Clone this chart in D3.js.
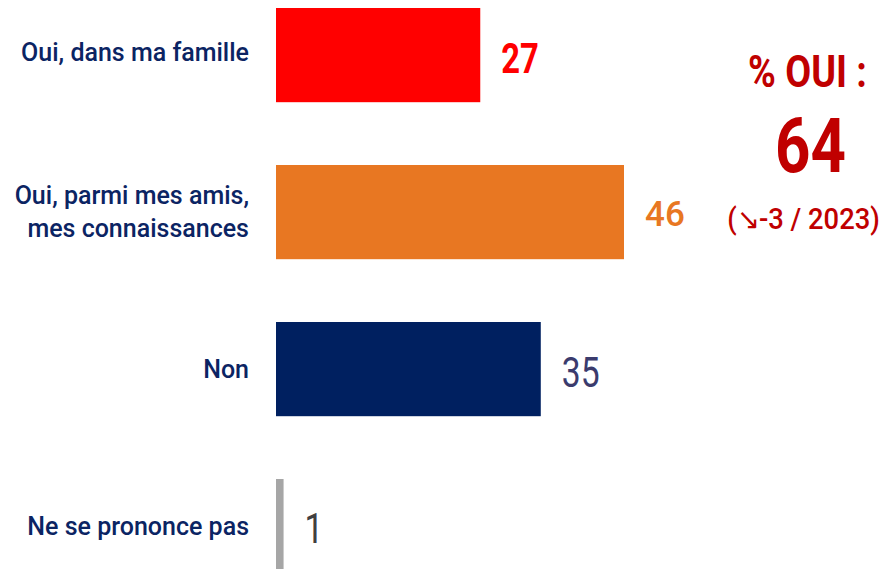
<!DOCTYPE html>
<html><head><meta charset="utf-8">
<script src="https://cdn.jsdelivr.net/npm/d3@7"></script>
<style>body{margin:0;background:#fff}svg{display:block}</style>
</head><body>
<script>
const categories = ["Oui, dans ma famille", "Oui, parmi mes amis,\nmes connaissances", "Non", "Ne se prononce pas"];
const values = [27, 46, 35, 1];
const summaryTitle = "% OUI :";
const summaryValue = "64";
const summaryNote = "(\u2198-3 / 2023)";

// styling (kept separate from data)
const barColors = ["#FF0000", "#E87722", "#002060", "#A6A6A6"];
const valueColors = ["#FF0000", "#E87722", "#3B3B6D", "#404040"];
const valueSize = [42, 35, 42, 42];
const valueWeight = [700, 500, 400, 400];
const valueSX = [0.78, 1.0, 0.8, 0.8];
const valueShift = [18, 13.5, 17.5, 17];

const W = 883, H = 569;
const font = "Roboto, 'Noto Sans', sans-serif";
const svg = d3.select("body").append("svg").attr("width", W).attr("height", H);

const x = d3.scaleLinear().domain([0, 46]).range([276, 624]);
const y = d3.scaleBand().domain(categories).range([8, 573.2]).paddingInner(0.4).paddingOuter(0);

svg.selectAll("rect.bar").data(values).join("rect")
  .attr("class", "bar")
  .attr("x", x(0))
  .attr("y", (d, i) => y(categories[i]))
  .attr("width", d => x(d) - x(0))
  .attr("height", y.bandwidth())
  .attr("fill", (d, i) => barColors[i]);

// category labels
const lab = svg.selectAll("text.cat").data(categories).join("text")
  .attr("class", "cat")
  .attr("text-anchor", "end")
  .attr("font-family", font)
  .attr("font-size", 25)
  .attr("font-weight", 500)
  .attr("fill", "#0B2463")
  .attr("transform", d => `translate(249,${y(d) + y.bandwidth() / 2})`);
lab.each(function(d, i) {
  const lines = d.split("\n");
  const t = d3.select(this);
  lines.forEach((ln, k) => {
    t.append("tspan").attr("x", 0)
      .attr("y", (k - (lines.length - 1) / 2) * 33 + 8.8 - (i === 0 ? 3 : 0))
      .text(ln);
  });
});

// value labels
svg.selectAll("text.val").data(values).join("text")
  .attr("class", "val")
  .attr("transform", (d, i) => `translate(${x(d) + 21},${y(categories[i]) + y.bandwidth() / 2 + valueShift[i]}) scale(${valueSX[i]},1)`)
  .attr("font-family", font)
  .attr("font-size", (d, i) => valueSize[i])
  .attr("font-weight", (d, i) => valueWeight[i])
  .attr("fill", (d, i) => valueColors[i])
  .text(d => d);

// summary block: compressed horizontally to a target width
function summaryText(txt, cx, baseY, size, weight, targetW) {
  const t = svg.append("text")
    .attr("text-anchor", "middle")
    .attr("font-family", font).attr("font-size", size).attr("font-weight", weight)
    .attr("fill", "#C00000").text(txt);
  const natural = t.node().getComputedTextLength() || targetW;
  t.attr("transform", `translate(${cx},${baseY}) scale(${targetW / natural},1)`);
}
summaryText(summaryTitle, 807.5, 87, 45, 700, 119);
summaryText(summaryValue, 810.5, 172, 76, 700, 71);
summaryText(summaryNote, 803.5, 229, 29, 500, 153);
</script>
</body></html>
